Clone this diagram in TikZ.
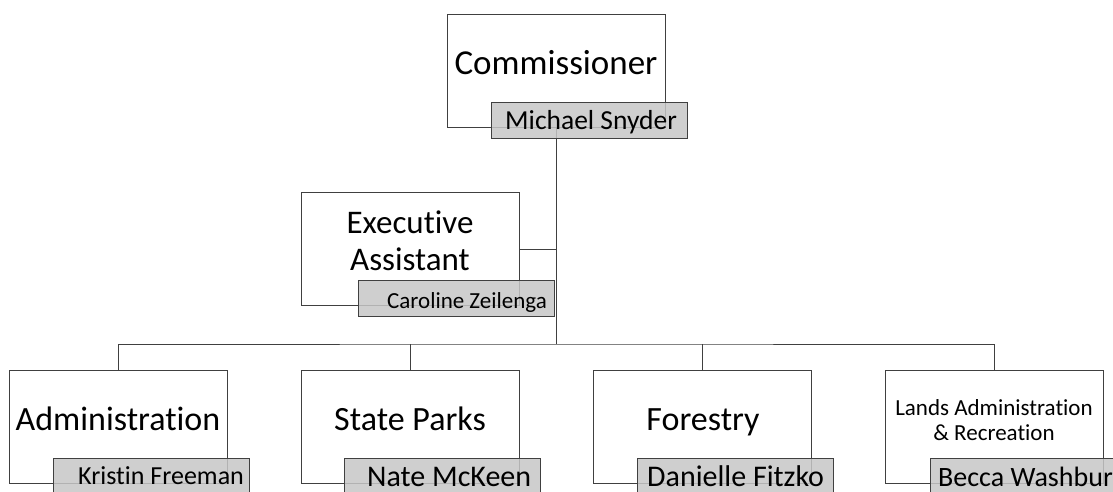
\documentclass[tikz,border=0pt]{standalone}
\usepackage{fontspec}
\setmainfont{Carlito}[Ligatures=NoCommon]
\usetikzlibrary{positioning,backgrounds}

\tikzset{
  unit/.style={draw=black!75, line width=1pt, fill=white, minimum width=218pt,
               minimum height=113pt, inner sep=0pt, anchor=north west},
  person/.style={draw=black!75, line width=1pt, fill=black!22, fill opacity=0.85,
                 text opacity=1, minimum width=196pt, minimum height=36pt,
                 inner sep=0pt, anchor=north west},
  title/.style={anchor=base, inner sep=0pt, align=center},
  who/.style={anchor=base west, inner sep=0pt},
  link/.style={draw=black!75, line width=1pt}
}

\begin{document}
\begin{tikzpicture}[x=1pt, y=-1pt]
\useasboundingbox (0,0) rectangle (1113,492);
\clip (0,0) rectangle (1113,492);

% boxes
\node[unit] (comm) at (447,14) {};
\node[unit] (exec) at (301,192) {};
\node[unit] (adm) at (9,370) {};
\node[unit] (parks) at (301,370) {};
\node[unit] (forest) at (593,370) {};
\node[unit] (lands) at (885,370) {};

% base = last line
\node[title, font=\fontsize{35}{38}\selectfont] (commtitle) at (556,75) {Commissioner};
\node[title, font=\fontsize{33}{37}\selectfont] (exectitle) at (410,270) {Executive\\Assistant};
\node[title, font=\fontsize{34}{38}\selectfont] (admtitle) at (118,430) {Administration};
\node[title, font=\fontsize{34}{38}\selectfont] (parkstitle) at (410,430) {State Parks};
\node[title, font=\fontsize{34}{38}\selectfont] (foresttitle) at (703,430) {Forestry};
\node[title, font=\fontsize{23}{25}\selectfont] (landstitle) at (994,440) {Lands Administration\\\& Recreation};

% name tags
\node[person] (snyderbox) at (491,102) {};
\node[person] (zeilengabox) at (358,280) {};
\node[person] (freemanbox) at (53,458) {};
\node[person] (mckeenbox) at (344,458) {};
\node[person] (fitzkobox) at (637,458) {};
\node[person] (washburnbox) at (930,458) {};

\node[who, font=\fontsize{27.5}{31}\selectfont] (snyder) at (505,130) {Michael Snyder};
\node[who, font=\fontsize{23}{27}\selectfont] (zeilenga) at (387,308) {Caroline Zeilenga};
\node[who, font=\fontsize{26}{30}\selectfont] (freeman) at (78,484) {Kristin Freeman};
\node[who, font=\fontsize{30}{34}\selectfont] (mckeen) at (367,486) {Nate McKeen};
\node[who, font=\fontsize{30}{34}\selectfont] (fitzko) at (647,486) {Danielle Fitzko};
\node[who, font=\fontsize{28}{32}\selectfont] (washburn) at (938,486) {Becca Washburn};

% connectors
\coordinate (bus) at (comm.south |- 0,344);
\begin{scope}[on background layer]
  \draw[link] (comm.south) -- (bus);
  \draw[link] (exec.east) -- (exec.east -| bus);
  \draw[link] (adm.north) |- (bus) -| (lands.north);
  \draw[link] (parks.north) -- (parks.north |- bus);
  \draw[link] (forest.north) -- (forest.north |- bus);
\end{scope}
\end{tikzpicture}
\end{document}
